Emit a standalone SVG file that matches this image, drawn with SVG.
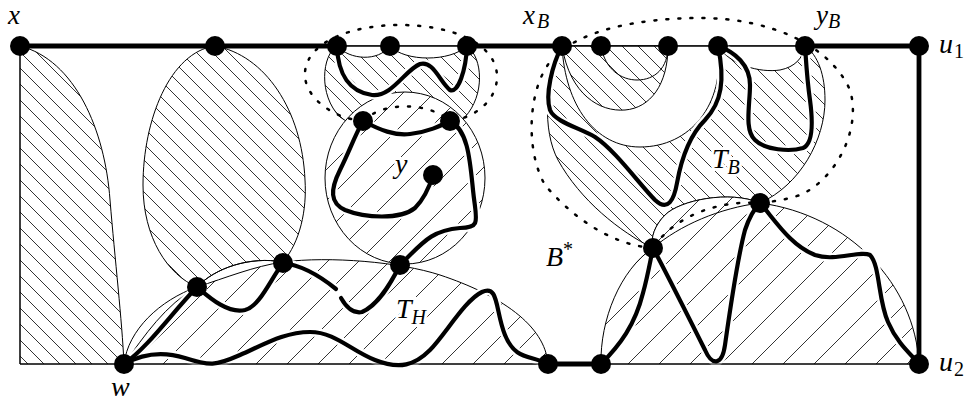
<svg xmlns="http://www.w3.org/2000/svg" width="976" height="404" viewBox="0 0 976 404">
<defs>
<pattern id="hb" patternUnits="userSpaceOnUse" width="16" height="16"><rect width="16" height="16" fill="#fff"/><path d="M-4,-4 L20,20 M-4,12 L4,20 M12,-4 L20,4" stroke="#000" stroke-width="0.8"/></pattern>
<pattern id="hf" patternUnits="userSpaceOnUse" width="31" height="31"><rect width="31" height="31" fill="#fff"/><path d="M-4,35 L35,-4 M-4,4 L4,-4 M27,35 L35,27" stroke="#000" stroke-width="0.8"/></pattern>
</defs>
<style>
.rb{fill:url(#hb);stroke:#000;stroke-width:1}
.rf{fill:url(#hf);stroke:#000;stroke-width:1}
.wh{fill:#fff;stroke:#000;stroke-width:1}
.thin{fill:none;stroke:#000;stroke-width:1}
.dot{fill:none;stroke:#000;stroke-width:2.5;stroke-dasharray:2 10;stroke-linecap:round}
.halo{fill:none;stroke:#fff;stroke-width:9;stroke-linecap:round;stroke-linejoin:round}
.thk{fill:none;stroke:#000;stroke-width:4.2;stroke-linecap:round;stroke-linejoin:round}
.frk{stroke:#000;stroke-width:4.8}
.frt{stroke:#000;stroke-width:1}
.v{fill:#000}
text{font-family:"Liberation Serif","DejaVu Serif",serif;font-size:28px;font-style:italic;fill:#000}
.top{font-size:27px}
.sub{font-size:20px}
.up{font-style:normal}
.lh{stroke:#fff;stroke-width:6;paint-order:stroke}
</style>
<g id="regions">
<path id="left-region" class="rb" d="M20,46 C75,60 105,130 110,200 C115,260 122,320 124,364 L20,364 Z"/>
<path id="egg" class="rb" d="M215,46 C170,52 143,120 143,185 C143,238 168,275 197,287 C215,268 250,256 283,262 C300,242 307,210 305,180 C302,110 265,55 215,46 Z"/>
<path id="TH-region" class="rf" d="M124,364 C128,330 160,300 197,287 C225,278 255,266 283,262 C330,256 400,262 440,275 C500,295 545,325 548,364 Z"/>
<path class="thin" d="M124,364 C145,335 165,305 197,287"/>
<path class="thin" d="M197,287 C215,268 250,256 283,262"/>
<path id="upper-region" class="rb" d="M337,46 C322,55 318,95 340,117 C370,140 440,140 465,117 C485,95 483,58 467,46 Z"/>
<path class="wh" d="M337,46 C350,60 378,62 390,46 Z"/>
<path class="wh" d="M390,46 C405,62 450,62 467,46 Z"/>
<ellipse id="y-circle" class="rf" cx="405" cy="178" rx="80" ry="86"/>
<path id="TB-region" class="rb" d="M562,46 L805,46 C818,55 825,75 825,100 C825,140 800,185 760,203 C730,190 680,200 665,215 C655,225 650,238 653,248 C620,232 580,200 558,160 C542,130 545,80 562,46 Z"/>
<path class="wh" d="M562,46 C565,105 595,147 640,147 C690,147 725,105 718,46 Z"/>
<path class="rb" d="M562,46 C570,95 600,112 625,110 C650,108 668,85 668,46 Z"/>
<path class="thin" d="M601,46 C605,70 622,80 637,80 C655,80 668,68 668,46"/>
<path class="wh" d="M718,46 C730,65 760,73 780,70 C795,67 803,58 805,46 Z"/>
<path id="B-region" class="rf" d="M601,364 C600,320 620,270 653,248 C650,238 655,225 665,215 C680,200 730,190 760,203 C850,215 915,285 919,364 Z"/>
<path class="thin" d="M653,248 C680,225 720,208 760,203"/>
</g>
<g id="dotted">
<path class="dot" d="M363,121 C330,118 303,95 305,72 C308,40 355,25 400,25 C450,25 495,42 497,75 C498,100 475,118 450,121 C430,103 385,100 363,121 Z"/>
<path class="dot" d="M653,248 C610,245 570,215 545,185 C525,150 528,90 550,62 C575,30 640,18 700,18 C770,18 830,45 850,90 C862,130 835,180 800,195 C785,200 770,202 760,203 C720,200 675,215 653,248 Z"/>
</g>
<g id="connectors">
<g class="halo">
<path d="M337,46 C338,75 350,92 372,95 C392,97 405,70 420,64 C433,60 440,82 450,90 C458,94 466,70 467,46"/>
<path d="M363,121 C380,130 395,136 410,134 C428,132 440,126 450,121"/>
<path d="M363,121 C355,135 350,150 340,170 C330,190 330,203 345,210 C365,218 400,220 415,208 C425,198 430,185 433,175"/>
<path d="M450,121 C468,130 470,160 473,190 C476,220 482,228 460,228 C435,230 425,240 410,255 L400,265"/>
<path d="M400,265 C390,285 378,305 362,312 C352,314 345,305 341,298"/>
<path d="M283,263 C300,265 320,276 336,289"/>
<path d="M124,364 C150,345 170,315 197,287"/>
<path d="M197,287 C210,298 228,314 245,310 C260,306 270,280 283,263"/>
<path d="M124,364 C140,355 160,350 185,358 S215,366 240,355 S285,332 310,332 S350,350 375,360 S415,365 430,350 S465,300 482,292 S495,310 505,335 S530,355 548,364"/>
<path d="M562,46 C552,65 545,95 550,110 C555,122 580,128 595,137 C615,150 640,185 655,200 C668,212 674,200 677,183 C682,155 690,135 705,120 C722,102 725,80 718,46"/>
<path d="M718,46 C735,52 750,65 750,85 C750,105 744,130 755,140 C765,150 790,152 803,148 C815,143 812,115 810,100 C807,80 806,60 805,46"/>
<path d="M601,364 C620,345 635,325 643,293 C648,275 650,262 653,248"/>
<path d="M653,248 C670,280 690,320 705,350 C712,366 722,366 725,345 C730,310 737,260 745,230 C750,215 755,208 760,203"/>
<path d="M760,203 C775,220 790,245 815,255 C835,262 860,250 870,255 C880,265 878,300 888,322 C898,345 912,355 919,364"/>
</g>
<g id="frame">
<line class="frk" x1="20" y1="46" x2="337" y2="46"/>
<line class="frt" x1="337" y1="46" x2="467" y2="46"/>
<line class="frk" x1="467" y1="46" x2="562" y2="46"/>
<line class="frt" x1="562" y1="46" x2="805" y2="46"/>
<line class="frk" x1="805" y1="46" x2="919" y2="46"/>
<line class="frk" x1="919" y1="46" x2="919" y2="364"/>
<line class="frt" x1="20" y1="46" x2="20" y2="364"/>
<line class="frt" x1="20" y1="364" x2="548" y2="364"/>
<line class="frk" x1="548" y1="364" x2="601" y2="364"/>
<line class="frt" x1="601" y1="364" x2="919" y2="364"/>
</g>
<g class="thk">
<path d="M337,46 C338,75 350,92 372,95 C392,97 405,70 420,64 C433,60 440,82 450,90 C458,94 466,70 467,46"/>
<path d="M363,121 C380,130 395,136 410,134 C428,132 440,126 450,121"/>
<path d="M363,121 C355,135 350,150 340,170 C330,190 330,203 345,210 C365,218 400,220 415,208 C425,198 430,185 433,175"/>
<path d="M450,121 C468,130 470,160 473,190 C476,220 482,228 460,228 C435,230 425,240 410,255 L400,265"/>
<path d="M400,265 C390,285 378,305 362,312 C352,314 345,305 341,298"/>
<path d="M283,263 C300,265 320,276 336,289"/>
<path d="M124,364 C150,345 170,315 197,287"/>
<path d="M197,287 C210,298 228,314 245,310 C260,306 270,280 283,263"/>
<path d="M124,364 C140,355 160,350 185,358 S215,366 240,355 S285,332 310,332 S350,350 375,360 S415,365 430,350 S465,300 482,292 S495,310 505,335 S530,355 548,364"/>
<path d="M562,46 C552,65 545,95 550,110 C555,122 580,128 595,137 C615,150 640,185 655,200 C668,212 674,200 677,183 C682,155 690,135 705,120 C722,102 725,80 718,46"/>
<path d="M718,46 C735,52 750,65 750,85 C750,105 744,130 755,140 C765,150 790,152 803,148 C815,143 812,115 810,100 C807,80 806,60 805,46"/>
<path d="M601,364 C620,345 635,325 643,293 C648,275 650,262 653,248"/>
<path d="M653,248 C670,280 690,320 705,350 C712,366 722,366 725,345 C730,310 737,260 745,230 C750,215 755,208 760,203"/>
<path d="M760,203 C775,220 790,245 815,255 C835,262 860,250 870,255 C880,265 878,300 888,322 C898,345 912,355 919,364"/>
</g>
</g>
<g id="vertices" class="v">
<circle id="v-x" cx="20" cy="46" r="10"/>
<circle cx="215" cy="46" r="10"/>
<circle cx="337" cy="46" r="10"/>
<circle cx="390" cy="46" r="10"/>
<circle cx="467" cy="46" r="10"/>
<circle id="v-xB" cx="562" cy="46" r="10"/>
<circle cx="601" cy="46" r="10"/>
<circle cx="668" cy="46" r="10"/>
<circle cx="718" cy="46" r="10"/>
<circle id="v-yB" cx="805" cy="46" r="10"/>
<circle id="v-u1" cx="919" cy="46" r="10"/>
<circle cx="363" cy="121" r="10"/>
<circle cx="450" cy="121" r="10"/>
<circle id="v-y" cx="433" cy="175" r="10"/>
<circle cx="197" cy="287" r="10"/>
<circle cx="283" cy="263" r="10"/>
<circle cx="400" cy="265" r="10"/>
<circle cx="653" cy="248" r="10"/>
<circle cx="760" cy="203" r="10"/>
<circle id="v-w" cx="124" cy="364" r="10"/>
<circle cx="548" cy="364" r="10"/>
<circle cx="601" cy="364" r="10"/>
<circle id="v-u2" cx="919" cy="364" r="10"/>
</g>
<g id="labels">
<text class="top" x="8" y="24">x</text>
<text class="top" x="523" y="24">x</text><text class="sub" x="537" y="28">B</text>
<text class="top" x="816" y="24">y</text><text class="sub" x="828" y="28">B</text>
<text x="939" y="53">u</text><text class="sub up" x="954" y="58">1</text>
<text x="939" y="371">u</text><text class="sub up" x="954" y="376">2</text>
<text x="111" y="396">w</text>
<text class="lh" x="395" y="173">y</text>
<text class="lh" x="712" y="168">T<tspan class="sub" dy="6">B</tspan></text>
<text class="lh" x="396" y="318">T<tspan class="sub" dy="6">H</tspan></text>
<text class="lh" x="546" y="266">B<tspan class="sub up" dy="-10">*</tspan></text>
</g>
</svg>
